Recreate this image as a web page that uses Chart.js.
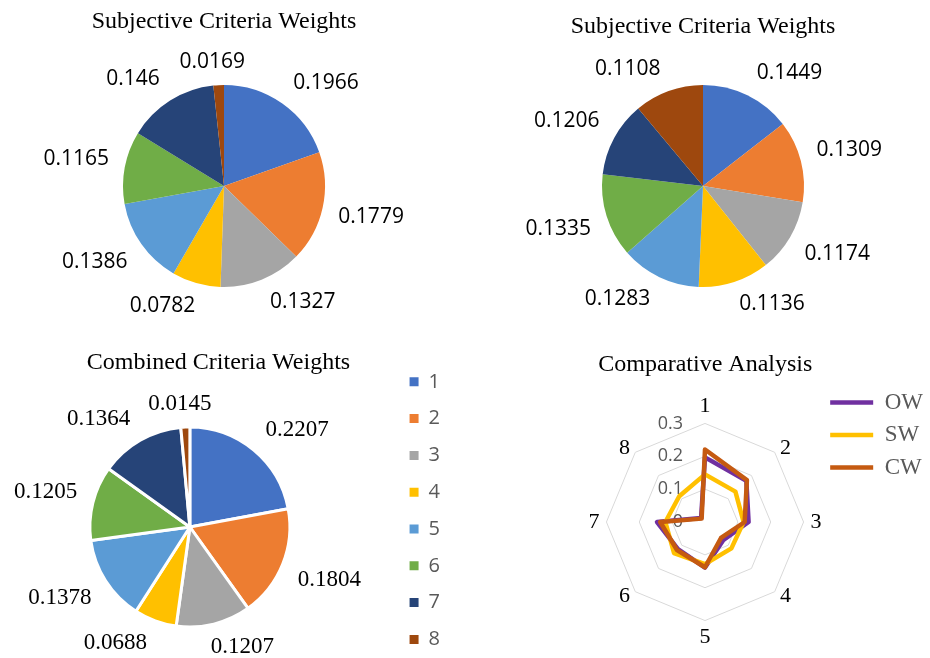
<!DOCTYPE html>
<html>
<head>
<meta charset="utf-8">
<title>Criteria Weights</title>
<script src="https://cdn.jsdelivr.net/npm/chart.js@4.4.1/dist/chart.umd.min.js"></script>
<style>
    html, body { margin: 0; padding: 0; background: #fff; }
    body { position: relative; width: 930px; height: 658px; overflow: hidden; }
    canvas { position: absolute; }
    #objectivePie { left: 0; top: 0; }
    #subjectivePie { left: 478px; top: 0; }
    #combinedPie { left: -13px; top: 340px; }
    #comparisonRadar { left: 590px; top: 340px; }
</style>
</head>
<body>
<canvas id="objectivePie" width="448" height="338"></canvas>
<canvas id="subjectivePie" width="450" height="333"></canvas>
<canvas id="combinedPie" width="463" height="359"></canvas>
<canvas id="comparisonRadar" width="343" height="323"></canvas>

<script>
const criteria = ['1', '2', '3', '4', '5', '6', '7', '8'];
const objectiveWeights = [0.1966, 0.1779, 0.1327, 0.0782, 0.1386, 0.1165, 0.146, 0.0169];
const subjectiveWeights = [0.1449, 0.1309, 0.1174, 0.1136, 0.1283, 0.1335, 0.1206, 0.1108];
const combinedWeights = [0.2207, 0.1804, 0.1207, 0.0688, 0.1378, 0.1205, 0.1364, 0.0145];
const radarTicks = [0, 0.1, 0.2, 0.3];

const sliceColors = ['#4472C4', '#ED7D31', '#A5A5A5', '#FFC000', '#5B9BD5', '#70AD47', '#264478', '#9E480E'];
const SERIF = '"Liberation Serif", "Times New Roman", serif';
const SANS = '"Open Sans", "Noto Sans", sans-serif';

Chart.defaults.font.family = SANS;
Chart.defaults.animation = false;

// Value labels just outside each slice, pushed away like Excel does
const valueLabels = {
    id: 'valueLabels',
    afterDatasetsDraw(chart, args, opts) {
        const ctx = chart.ctx;
        const values = chart.data.datasets[0].data;
        const push = v => Math.max(-1, Math.min(1, v * 3));
        ctx.save();
        ctx.font = opts.font;
        ctx.fillStyle = opts.color;
        ctx.textAlign = 'center';
        ctx.textBaseline = 'middle';
        chart.getDatasetMeta(0).data.forEach((arc, i) => {
            const { x, y, startAngle, endAngle, outerRadius } =
                arc.getProps(['x', 'y', 'startAngle', 'endAngle', 'outerRadius'], true);
            const mid = (startAngle + endAngle) / 2;
            const dx = Math.cos(mid);
            const dy = Math.sin(mid);
            const text = String(values[i]);
            const w = ctx.measureText(text).width;
            const r = outerRadius + 12;
            ctx.fillText(text, x + dx * r + push(dx) * (w / 2 + 4), y + dy * r + push(dy) * 11);
        });
        ctx.restore();
    }
};

// Tick values left of axis 1 and the category names round the web
const radarText = {
    id: 'radarText',
    beforeDatasetsDraw(chart, args, opts) {
        const scale = chart.scales.r;
        const ctx = chart.ctx;
        ctx.save();
        ctx.font = opts.tickFont;
        ctx.fillStyle = opts.tickColor;
        ctx.textAlign = 'right';
        ctx.textBaseline = 'middle';
        radarTicks.forEach(v => {
            const p = scale.getPointPositionForValue(0, v);
            ctx.fillText(String(v), p.x - 22, p.y);
        });
        ctx.restore();
    },
    afterDatasetsDraw(chart, args, opts) {
        const scale = chart.scales.r;
        const ctx = chart.ctx;
        const outer = scale.getDistanceFromCenterForValue(radarTicks[radarTicks.length - 1]);
        ctx.save();
        ctx.font = opts.labelFont;
        ctx.fillStyle = opts.labelColor;
        ctx.textAlign = 'center';
        ctx.textBaseline = 'middle';
        chart.data.labels.forEach((label, i) => {
            const unit = scale.getPointPosition(i, 1);
            const dx = unit.x - scale.xCenter;
            const dy = unit.y - scale.yCenter;
            const w = ctx.measureText(label).width;
            const p = scale.getPointPosition(i, outer + 6);
            // side labels sit beside their corner, top and bottom ones above or below it
            if (Math.abs(dx) > 0.1) {
                ctx.fillText(label, p.x + Math.sign(dx) * (w / 2 + 1), p.y);
            } else {
                ctx.fillText(label, p.x, p.y + Math.sign(dy) * 11);
            }
        });
        ctx.restore();
    }
};

function titleOptions(text, padding, fullSize = true) {
    return {
        display: true,
        text: text,
        color: '#000',
        fullSize: fullSize,
        font: { family: SERIF, size: 24, weight: 'normal', lineHeight: 1 },
        padding: padding
    };
}

function makePie(id, values, cfg) {
    return new Chart(document.getElementById(id), {
        type: 'pie',
        data: {
            labels: criteria,
            datasets: [{
                data: values,
                backgroundColor: sliceColors,
                borderColor: '#fff',
                borderWidth: cfg.borderWidth,
                radius: cfg.radius
            }]
        },
        options: {
            responsive: false,
            layout: { padding: 0 },
            plugins: {
                title: titleOptions(cfg.title, cfg.titlePadding),
                legend: cfg.legend || { display: false },
                tooltip: { enabled: false },
                valueLabels: { font: cfg.labelFont, color: '#000' }
            }
        },
        plugins: [valueLabels]
    });
}

makePie('objectivePie', objectiveWeights, {
    title: 'Subjective Criteria Weights',
    titlePadding: { top: 10, bottom: 0 },
    radius: 101,
    borderWidth: 0,
    labelFont: '21px ' + SANS
});

makePie('subjectivePie', subjectiveWeights, {
    title: 'Subjective Criteria Weights',
    titlePadding: { top: 15, bottom: 0 },
    radius: 101,
    borderWidth: 0,
    labelFont: '21px ' + SANS
});

makePie('combinedPie', combinedWeights, {
    title: 'Combined Criteria Weights',
    titlePadding: { top: 11, bottom: -20 },
    radius: 100,
    borderWidth: 3,
    labelFont: '23px ' + SERIF,
    legend: {
        display: true,
        position: 'right',
        align: 'start',
        fullSize: false,
        labels: {
            boxWidth: 9,
            boxHeight: 9,
            padding: 16.8,
            color: '#595959',
            font: { family: SANS, size: 20 },
            generateLabels: chart => Chart.overrides.doughnut.plugins.legend.labels
                .generateLabels(chart)
                .map(item => Object.assign(item, { lineWidth: 0 }))
        }
    }
});

// Radar: CW first so it is drawn on top, legend reversed to read OW, SW, CW
new Chart(document.getElementById('comparisonRadar'), {
    type: 'radar',
    data: {
        labels: criteria,
        datasets: [
            { label: 'CW', data: combinedWeights, borderColor: '#C55A11', backgroundColor: '#C55A11' },
            { label: 'SW', data: subjectiveWeights, borderColor: '#FFC000', backgroundColor: '#FFC000' },
            { label: 'OW', data: objectiveWeights, borderColor: '#7030A0', backgroundColor: '#7030A0' }
        ].map(ds => Object.assign(ds, {
            fill: false,
            borderWidth: 4.5,
            borderCapStyle: 'round',
            borderJoinStyle: 'round',
            pointRadius: 0,
            pointHoverRadius: 0
        }))
    },
    options: {
        responsive: false,
        layout: { padding: 0 },
        scales: {
            r: {
                min: 0,
                max: 0.35,
                afterBuildTicks: scale => {
                    scale.ticks = radarTicks.map(value => ({ value }));
                },
                ticks: { display: false },
                grid: { color: '#d9d9d9', lineWidth: 1 },
                angleLines: { display: false },
                pointLabels: { display: false }
            }
        },
        plugins: {
            title: titleOptions('Comparative Analysis', { top: 13, bottom: 4.5 }, false),
            legend: {
                position: 'right',
                align: 'start',
                fullSize: false,
                reverse: true,
                labels: {
                    usePointStyle: true,
                    pointStyle: 'line',
                    pointStyleWidth: 43,
                    padding: 9.5,
                    color: '#595959',
                    font: { family: SERIF, size: 23 }
                }
            },
            tooltip: { enabled: false },
            radarText: {
                tickFont: '18px ' + SANS,
                tickColor: '#595959',
                labelFont: '22px ' + SERIF,
                labelColor: '#000'
            }
        }
    },
    plugins: [radarText]
});
</script>
</body>
</html>
